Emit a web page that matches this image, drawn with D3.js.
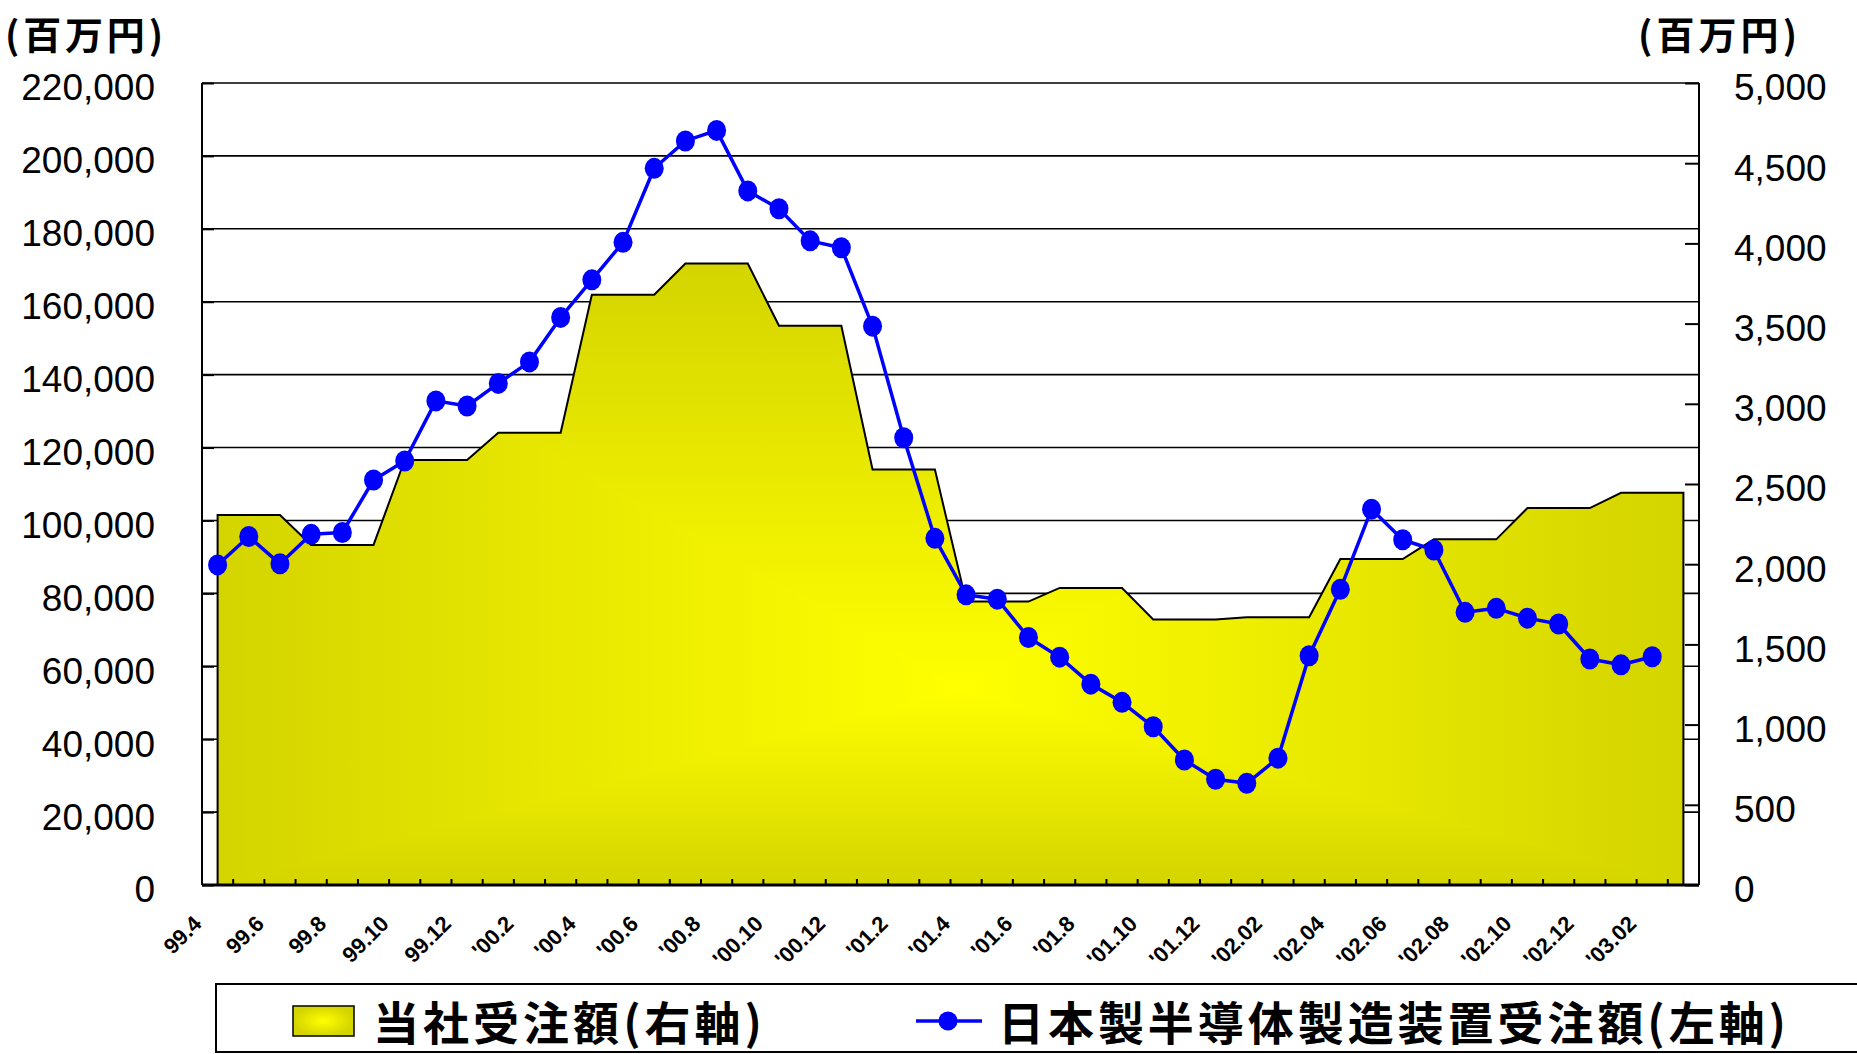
<!DOCTYPE html>
<html><head><meta charset="utf-8">
<script src="https://cdn.jsdelivr.net/npm/d3@7/dist/d3.min.js"></script>
<style>html,body{margin:0;padding:0;background:#fff;overflow:hidden}</style>
</head><body><svg id="c" width="1857" height="1054"></svg>
<script>
// ---------------- data ----------------
const months = ["99.4","99.5","99.6","99.7","99.8","99.9","99.10","99.11","99.12",
  "00.1","00.2","00.3","00.4","00.5","00.6","00.7","00.8","00.9","00.10","00.11","00.12",
  "01.1","01.2","01.3","01.4","01.5","01.6","01.7","01.8","01.9","01.10","01.11","01.12",
  "02.1","02.2","02.3","02.4","02.5","02.6","02.7","02.8","02.9","02.10","02.11","02.12",
  "03.1","03.2","03.3"];
const tickLabels = ["99.4","99.6","99.8","99.10","99.12","'00.2","'00.4","'00.6","'00.8","'00.10","'00.12",
  "'01.2","'01.4","'01.6","'01.8","'01.10","'01.12","'02.02","'02.04","'02.06","'02.08","'02.10","'02.12","'03.02"];
const tickMonths = ["99.4","99.6","99.8","99.10","99.12","00.2","00.4","00.6","00.8","00.10","00.12",
  "01.2","01.4","01.6","01.8","01.10","01.12","02.2","02.4","02.6","02.8","02.10","02.12","03.2"];
// 日本製半導体製造装置受注額 (left axis, 百万円) 99.4 - 03.2
const industryOrders = [87800,95600,88100,96200,96700,111100,116300,132800,131400,
  137600,143500,155700,166000,176300,196600,204100,207000,190400,185500,176700,174800,
  153300,122700,95100,79600,78400,67900,62500,55100,50100,43400,34300,29000,
  27900,34800,62900,81100,103100,94700,91900,74800,75900,73200,71600,62000,
  60400,62600];
// 当社受注額 (right axis, 百万円) monthly, 99.4 - 03.3
const companyOrders = [2307,2307,2307,2120,2120,2120,2650,2650,2650,
  2820,2820,2820,3680,3680,3680,3874,3874,3874,3487,3487,3487,
  2590,2590,2590,1767,1767,1767,1852,1852,1852,1656,1656,1656,
  1670,1670,1670,2032,2032,2032,2155,2155,2155,2350,2350,2350,
  2445,2445,2445];
const leftMax = 220000, rightMax = 5000;
const unitLabel = "(百万円)";
const legendLabels = ["当社受注額(右軸)", "日本製半導体製造装置受注額(左軸)"];

// ---------------- layout ----------------
const svg = d3.select("#c");
const X0 = 202, X1 = 1699, YT = 83, YB = 885;
const x = d3.scaleBand().domain(months).range([X0, X1]).padding(0);
const bw = x.bandwidth();
const cx = m => x(m) + bw / 2;
const yL = d3.scaleLinear().domain([0, leftMax]).range([YB, YT]);
const yR = d3.scaleLinear().domain([0, rightMax]).range([YB, YT]);
const numFont = "'Liberation Sans', Arial, sans-serif";
const cjkFont = "'Noto Sans CJK JP', 'Noto Sans CJK SC', sans-serif";

const defs = svg.append("defs");

// gridlines (left axis)
svg.append("g").selectAll("line").data(yL.ticks(11)).join("line")
  .attr("x1", X0).attr("x2", X1).attr("y1", d => yL(d)).attr("y2", d => yL(d))
  .attr("stroke", "#000").attr("stroke-width", 1.6);

// area (company orders) with rectangular "from centre" gradient
const compData = months.map((m, i) => ({m, v: companyOrders[i]}));
const area = d3.area().x(d => cx(d.m)).y0(yR(0)).y1(d => yR(d.v));
const areaPath = area(compData);
defs.append("clipPath").attr("id", "areaClip").append("path").attr("d", areaPath);
const bx0 = cx(months[0]), bx1 = cx(months[months.length - 1]);
const by0 = yR(d3.max(companyOrders)), by1 = YB;
const gcx = 960, gcy = 690;
const dark = "#d4d400", bright = "#ffff00";
function lin(id, x1, y1, x2, y2) {
  const g = defs.append("linearGradient").attr("id", id).attr("gradientUnits", "userSpaceOnUse")
    .attr("x1", x1).attr("y1", y1).attr("x2", x2).attr("y2", y2);
  g.append("stop").attr("offset", 0).attr("stop-color", bright);
  g.append("stop").attr("offset", 1).attr("stop-color", dark);
}
lin("gT", gcx, gcy, gcx, by0);
lin("gB", gcx, gcy, gcx, by1);
lin("gL", gcx, gcy, bx0, gcy);
lin("gR", gcx, gcy, bx1, gcy);
const gArea = svg.append("g").attr("clip-path", "url(#areaClip)");
const tri = [
  [[bx0, by0], [bx1, by0], [gcx, gcy], "gT"],
  [[bx0, by1], [bx1, by1], [gcx, gcy], "gB"],
  [[bx0, by0], [bx0, by1], [gcx, gcy], "gL"],
  [[bx1, by0], [bx1, by1], [gcx, gcy], "gR"]
];
gArea.selectAll("path").data(tri).join("path")
  .attr("d", d => `M${d[0]}L${d[1]}L${d[2]}Z`)
  .attr("fill", d => `url(#${d[3]})`).attr("stroke", d => `url(#${d[3]})`).attr("stroke-width", 1);
svg.append("path").attr("d", areaPath).attr("fill", "none").attr("stroke", "#000").attr("stroke-width", 2);

// frame
svg.append("line").attr("x1", X0).attr("x2", X0).attr("y1", YT).attr("y2", YB).attr("stroke", "#000").attr("stroke-width", 2);
svg.append("line").attr("x1", X1).attr("x2", X1).attr("y1", YT).attr("y2", YB).attr("stroke", "#000").attr("stroke-width", 2);

// left axis
const axL = svg.append("g").attr("transform", `translate(${X0},0)`)
  .call(d3.axisLeft(yL).ticks(11).tickFormat(d3.format(",")).tickSize(-12).tickPadding(47));
axL.select(".domain").remove();
axL.selectAll(".tick line").attr("stroke", "#000").attr("stroke-width", 2);
axL.selectAll("text").attr("font-family", numFont).attr("font-size", 37).attr("fill", "#000")
  .attr("y", 4).attr("dy", "0.35em");

// right axis
const axR = svg.append("g").attr("transform", `translate(${X1},0)`)
  .call(d3.axisRight(yR).ticks(10).tickFormat(d3.format(",")).tickSize(-14).tickPadding(35));
axR.select(".domain").remove();
axR.selectAll(".tick line").attr("stroke", "#000").attr("stroke-width", 2);
axR.selectAll("text").attr("font-family", numFont).attr("font-size", 37).attr("fill", "#000")
  .attr("y", 4).attr("dy", "0.35em");

// bottom axis
svg.append("line").attr("x1", X0).attr("x2", X1).attr("y1", YB).attr("y2", YB).attr("stroke", "#000").attr("stroke-width", 3);
svg.append("g").selectAll("line").data(months.slice(1)).join("line")
  .attr("x1", d => x(d)).attr("x2", d => x(d)).attr("y1", YB).attr("y2", YB - 6)
  .attr("stroke", "#000").attr("stroke-width", 2);
svg.append("g").selectAll("text").data(tickMonths).join("text")
  .attr("transform", d => `translate(${x(d) + 1},925) rotate(-45)`)
  .attr("text-anchor", "end").attr("font-family", numFont).attr("font-weight", "bold")
  .attr("font-size", 22).attr("fill", "#000")
  .text((d, i) => tickLabels[i]);

// line series
const indData = industryOrders.map((v, i) => ({m: months[i], v}));
svg.append("path").datum(indData)
  .attr("d", d3.line().x(d => cx(d.m)).y(d => yL(d.v)))
  .attr("fill", "none").attr("stroke", "#0000ff").attr("stroke-width", 3.5).attr("stroke-linejoin", "round");
svg.append("g").selectAll("ellipse").data(indData).join("ellipse")
  .attr("cx", d => cx(d.m)).attr("cy", d => yL(d.v)).attr("rx", 9.5).attr("ry", 10.5)
  .attr("fill", "#0000ff");

// unit labels
svg.append("text").attr("x", 5).attr("y", 32).attr("dominant-baseline", "central")
  .attr("font-family", cjkFont).attr("font-weight", "bold").attr("font-size", 38)
  .attr("textLength", 158).attr("lengthAdjust", "spacing").text(unitLabel);
svg.append("text").attr("x", 1638).attr("y", 32).attr("dominant-baseline", "central")
  .attr("font-family", cjkFont).attr("font-weight", "bold").attr("font-size", 38)
  .attr("textLength", 159).attr("lengthAdjust", "spacing").text(unitLabel);

// legend
svg.append("rect").attr("x", 216).attr("y", 984).attr("width", 1700).attr("height", 68)
  .attr("fill", "#fff").attr("stroke", "#000").attr("stroke-width", 2);
const rg = defs.append("radialGradient").attr("id", "gSw");
rg.append("stop").attr("offset", 0).attr("stop-color", bright);
rg.append("stop").attr("offset", 1).attr("stop-color", dark);
svg.append("rect").attr("x", 293).attr("y", 1006).attr("width", 61).attr("height", 30)
  .attr("fill", "url(#gSw)").attr("stroke", "#000").attr("stroke-width", 1.5);
svg.append("text").attr("x", 373).attr("y", 1020).attr("dominant-baseline", "central")
  .attr("font-family", cjkFont).attr("font-weight", "bold").attr("font-size", 46)
  .attr("textLength", 389).attr("lengthAdjust", "spacing").text(legendLabels[0]);
svg.append("line").attr("x1", 916).attr("x2", 982).attr("y1", 1021).attr("y2", 1021)
  .attr("stroke", "#0000ff").attr("stroke-width", 3.5);
svg.append("ellipse").attr("cx", 948).attr("cy", 1021).attr("rx", 9.5).attr("ry", 9.5).attr("fill", "#0000ff");
svg.append("text").attr("x", 998).attr("y", 1020).attr("dominant-baseline", "central")
  .attr("font-family", cjkFont).attr("font-weight", "bold").attr("font-size", 46)
  .attr("textLength", 788).attr("lengthAdjust", "spacing").text(legendLabels[1]);
</script></body></html>
